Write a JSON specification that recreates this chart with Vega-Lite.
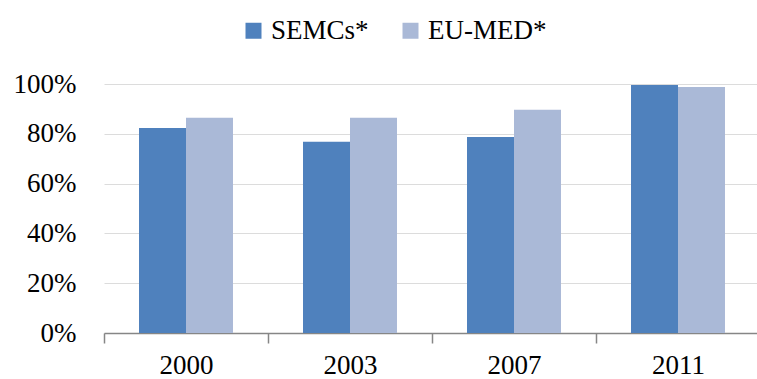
{
  "$schema": "https://vega.github.io/schema/vega-lite/v6.json",
  "autosize": {"type": "none"},
  "padding": {"left": 104, "top": 84, "right": 0, "bottom": 46},
  "width": 656,
  "height": 249,
  "background": "white",
  "config": {
    "view": {"stroke": null},
    "font": "Liberation Serif",
    "axis": {"labelFont": "Liberation Serif", "labelFontSize": 27, "labelColor": "black", "titleFont": "Liberation Serif"},
    "legend": {"labelFont": "Liberation Serif", "labelFontSize": 27, "labelColor": "black"}
  },
  "data": {
    "values": [
      {"year": "2000", "series": "SEMCs*", "value": 0.823},
      {"year": "2000", "series": "EU-MED*", "value": 0.864},
      {"year": "2003", "series": "SEMCs*", "value": 0.768},
      {"year": "2003", "series": "EU-MED*", "value": 0.864},
      {"year": "2007", "series": "SEMCs*", "value": 0.787},
      {"year": "2007", "series": "EU-MED*", "value": 0.897},
      {"year": "2011", "series": "SEMCs*", "value": 0.996},
      {"year": "2011", "series": "EU-MED*", "value": 0.988}
    ]
  },
  "mark": {"type": "bar"},
  "encoding": {
    "x": {
      "field": "year", "type": "nominal",
      "scale": {"paddingInner": 0, "paddingOuter": 0},
      "axis": {
        "title": null, "labelAngle": 0, "domainColor": "#868686", "domainWidth": 1.5,
        "tickColor": "#868686", "tickSize": 10, "tickWidth": 1.5, "tickBand": "extent",
        "labelPadding": 9
      }
    },
    "xOffset": {
      "field": "series", "type": "nominal",
      "sort": ["SEMCs*", "EU-MED*"],
      "scale": {"paddingInner": 0, "paddingOuter": 0.745}
    },
    "y": {
      "field": "value", "type": "quantitative",
      "scale": {"domain": [0, 1]},
      "axis": {
        "title": null, "format": ".0%", "values": [0, 0.2, 0.4, 0.6, 0.8, 1],
        "domain": false, "ticks": false, "labelPadding": 28,
        "grid": true, "gridColor": "#dcdcdc", "gridWidth": 1
      }
    },
    "color": {
      "field": "series", "type": "nominal",
      "sort": ["SEMCs*", "EU-MED*"],
      "scale": {"domain": ["SEMCs*", "EU-MED*"], "range": ["#4F81BD", "#AAB9D7"]},
      "legend": {
        "title": null, "orient": "none", "direction": "horizontal",
        "legendX": 136, "legendY": -67,
        "symbolType": "square", "symbolSize": 256, "symbolStrokeWidth": 0,
        "labelOffset": 4, "columnPadding": 28
      }
    }
  }
}
